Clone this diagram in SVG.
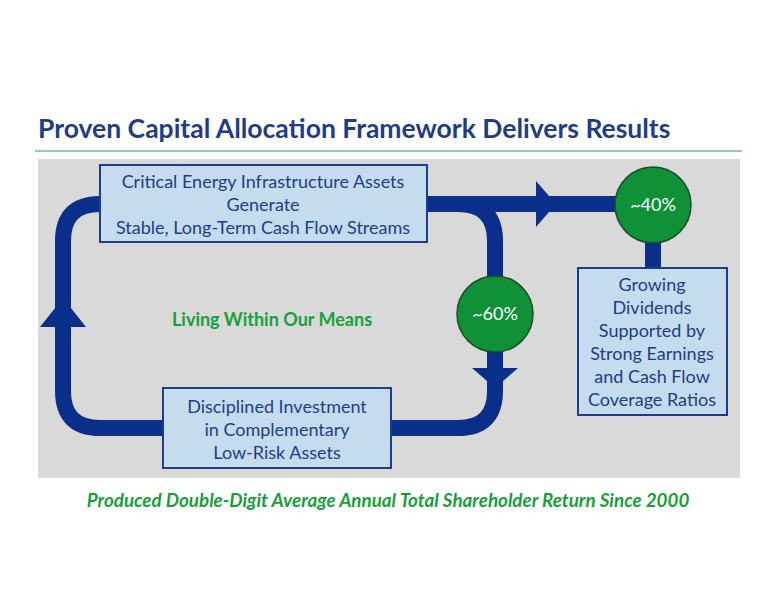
<svg xmlns="http://www.w3.org/2000/svg" width="776" height="600" viewBox="0 0 776 600">
<style>
text{font-family:Lato,"Liberation Sans",sans-serif}
.box{fill:#C5DCEF;stroke:#1F3C88;stroke-width:2}
.bt{fill:#1F3C88;font-size:18px;text-anchor:middle}
.flow{fill:none;stroke:#0A2F8A;stroke-width:16}
.ah{fill:#0A2F8A}
.circ{fill:#0E9137;stroke:#1B4D2A;stroke-width:1.5}
.ct{fill:#fff;font-size:18px;text-anchor:middle}
</style>
<rect width="776" height="600" fill="#fff"/>
<text x="38" y="138" font-size="26.5" font-weight="bold" fill="#1F3C88">Proven Capital Allocation Framework Delivers Results</text>
<line x1="35" y1="151" x2="742" y2="151" stroke="#6DBE8A" stroke-width="1.5"/>
<rect x="38" y="159" width="702" height="319" fill="#D9D9D9"/>
<g id="connectors">
<path class="flow" d="M100 204 H100 Q63 204 63 241 V391 Q63 428 100 428 H163"/>
<path class="flow" d="M391 428 H458 Q495 428 495 391 V241 Q495 204 458 204 H427"/>
<path class="flow" d="M458 204 H620"/>
<path class="flow" d="M653 240 V268"/>
<polygon class="ah" points="40,327 86,327 63,298"/>
<polygon class="ah" points="472,368 518,368 495,388"/>
<polygon class="ah" points="536,181 536,227 556,204"/>
</g>
<g id="n1"><rect class="box" x="100" y="165" width="327" height="77"/>
<text class="bt" x="263" y="188">Critical Energy Infrastructure Assets</text>
<text class="bt" x="263" y="211">Generate</text>
<text class="bt" x="263" y="234">Stable, Long-Term Cash Flow Streams</text></g>
<g id="n2"><rect class="box" x="163" y="388" width="228" height="80"/>
<text class="bt" x="277" y="413">Disciplined Investment</text>
<text class="bt" x="277" y="436">in Complementary</text>
<text class="bt" x="277" y="459">Low-Risk Assets</text></g>
<g id="n3"><rect class="box" x="578" y="268" width="149" height="147"/>
<text class="bt" x="652" y="291">Growing</text>
<text class="bt" x="652" y="314">Dividends</text>
<text class="bt" x="652" y="337">Supported by</text>
<text class="bt" x="652" y="360">Strong Earnings</text>
<text class="bt" x="652" y="383">and Cash Flow</text>
<text class="bt" x="652" y="406">Coverage Ratios</text></g>
<g id="c60"><circle class="circ" cx="495" cy="314" r="38"/><text class="ct" x="495" y="320">~60%</text></g>
<g id="c40"><circle class="circ" cx="653" cy="205" r="38"/><text class="ct" x="653" y="211">~40%</text></g>
<text x="272" y="326" font-size="18" font-weight="bold" fill="#17A03A" text-anchor="middle">Living Within Our Means</text>
<text x="388" y="507" font-size="18.8" font-weight="bold" font-style="italic" fill="#17A03A" text-anchor="middle">Produced Double-Digit Average Annual Total Shareholder Return Since 2000</text>
</svg>
